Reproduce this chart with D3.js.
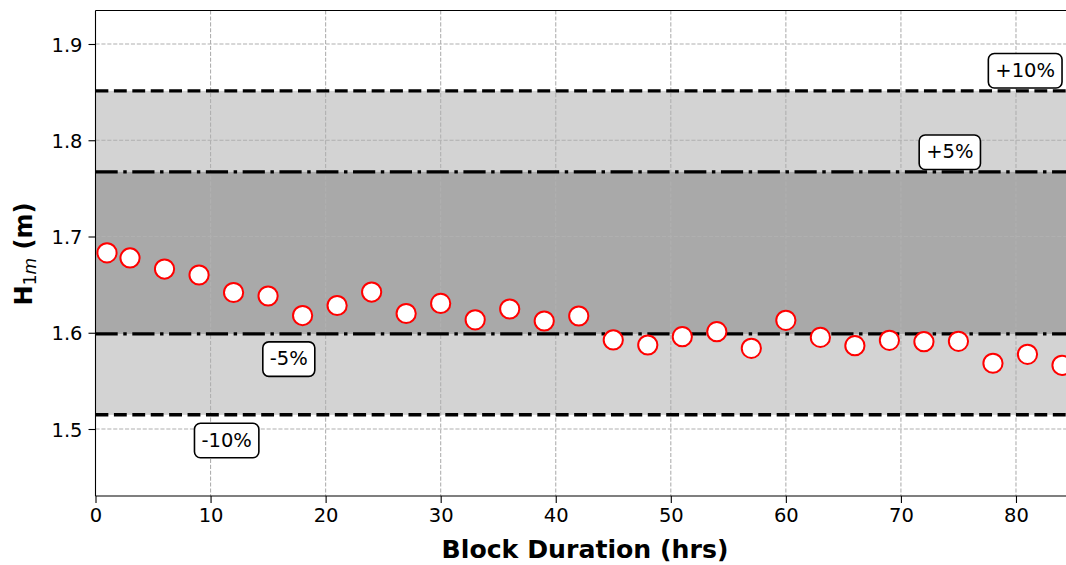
<!DOCTYPE html>
<html>
<head>
<meta charset="utf-8">
<script src="https://cdn.jsdelivr.net/npm/d3@7"></script>
<style>
  html, body { margin: 0; padding: 0; background: #fff; }
  svg { display: block; font-family: "DejaVu Sans", sans-serif; }
</style>
</head>
<body>
<svg id="chart" width="1066" height="565"></svg>
<script>
// ---- data ----
const hours = [1, 3, 6, 9, 12, 15, 18, 21, 24, 27, 30, 33, 36, 39, 42, 45, 48, 51, 54, 57, 60, 63, 66, 69, 72, 75, 78, 81, 84];
const h1m = [1.683, 1.6777, 1.6662, 1.660, 1.6418, 1.6382, 1.6179, 1.6283, 1.6423, 1.6200, 1.6305, 1.6134, 1.6247, 1.6122, 1.6174,
             1.5925, 1.5873, 1.5959, 1.6011, 1.5838, 1.6129, 1.5952, 1.5866, 1.5921, 1.5907, 1.5911, 1.5683, 1.5776, 1.5662];
const reference = 1.683;
const bandPercents = [10, 5];                 // ±10 % (dashed), ±5 % (dash-dot)
const bandLabels = ["+10%", "+5%", "-5%", "-10%"];
const bandLabelX = [80.8, 74.25, 16.8, 11.4];
const bandLabelY = [1.8725, 1.7878, 1.5729, 1.4883];
const xTicks = [0, 10, 20, 30, 40, 50, 60, 70, 80];
const yTicks = [1.5, 1.6, 1.7, 1.8, 1.9];
const xLabel = "Block Duration (hrs)";

// ---- layout ----
const svg = d3.select("#chart");
const L = 95.5, T = 10.5, B = 496;
const x = d3.scaleLinear().domain([0, 86]).range([L, L + 86 * 11.506]);
const y = d3.scaleLinear().domain([1.4304, 1.9348]).range([B, T]);
const R = x.range()[1];

svg.append("defs").append("clipPath").attr("id", "clip")
  .append("rect").attr("x", L).attr("y", T).attr("width", R - L).attr("height", B - T);

const plot = svg.append("g").attr("clip-path", "url(#clip)");

// bands
plot.append("rect")
  .attr("x", L).attr("width", R - L)
  .attr("y", y(reference * 1.10)).attr("height", y(reference * 0.90) - y(reference * 1.10))
  .attr("fill", "#d3d3d3");
plot.append("rect")
  .attr("x", L).attr("width", R - L)
  .attr("y", y(reference * 1.05)).attr("height", y(reference * 0.95) - y(reference * 1.05))
  .attr("fill", "#a9a9a9");

// grid
const grid = plot.append("g").attr("stroke", "#b0b0b0").attr("stroke-width", 1.1)
  .attr("stroke-dasharray", "4.1,1.8").attr("fill", "none");
grid.selectAll("line.gx").data(xTicks.filter(d => d > 0)).join("line")
  .attr("x1", d => x(d)).attr("x2", d => x(d)).attr("y1", T).attr("y2", B);
grid.selectAll("line.gy").data(yTicks).join("line")
  .attr("y1", d => y(d)).attr("y2", d => y(d)).attr("x1", L).attr("x2", R);

// reference lines
const lw = 3.47;
const lineStyles = { 10: "12.85,5.56", 5: "22.2,5.56,3.47,5.56" };
bandPercents.forEach(p => {
  [1 + p / 100, 1 - p / 100].forEach(f => {
    plot.append("line")
      .attr("x1", L).attr("x2", R)
      .attr("y1", y(reference * f)).attr("y2", y(reference * f))
      .attr("stroke", "#000").attr("stroke-width", lw)
      .attr("stroke-dasharray", lineStyles[p]);
  });
});

// points
plot.selectAll("circle.pt").data(hours.map((h, i) => [h, h1m[i]])).join("circle")
  .attr("class", "pt")
  .attr("cx", d => x(d[0])).attr("cy", d => y(d[1]))
  .attr("r", 9.6)
  .attr("fill", "#fff").attr("stroke", "#ff0000").attr("stroke-width", 2);

// band labels
bandLabels.forEach((lab, i) => {
  const g = svg.append("g");
  const t = g.append("text")
    .attr("x", x(bandLabelX[i])).attr("y", y(bandLabelY[i]))
    .attr("text-anchor", "middle").attr("dominant-baseline", "central")
    .attr("font-size", 19.5).attr("fill", "#000").text(lab);
  const bb = t.node().getBBox();
  const padX = 7, padY = 6;
  g.insert("rect", "text")
    .attr("x", bb.x - padX).attr("y", bb.y - padY + 0.5)
    .attr("width", bb.width + 2 * padX).attr("height", bb.height + 2 * padY - 0.5)
    .attr("rx", 6).attr("ry", 6)
    .attr("fill", "#fff").attr("stroke", "#000").attr("stroke-width", 1.6);
});

// spines
svg.append("line").attr("x1", L).attr("x2", R).attr("y1", T).attr("y2", T).attr("stroke", "#000").attr("stroke-width", 1.1);
svg.append("line").attr("x1", L).attr("x2", R).attr("y1", B).attr("y2", B).attr("stroke", "#000").attr("stroke-width", 1.1);
svg.append("line").attr("x1", L).attr("x2", L).attr("y1", T).attr("y2", B).attr("stroke", "#000").attr("stroke-width", 1.1);

// axes
const xAxis = d3.axisBottom(x).tickValues(xTicks).tickFormat(d3.format("d")).tickSize(7).tickPadding(5);
const yAxis = d3.axisLeft(y).tickValues(yTicks).tickFormat(d3.format(".1f")).tickSize(7).tickPadding(6);
const gx = svg.append("g").attr("transform", `translate(0,${B})`).call(xAxis);
const gy = svg.append("g").attr("transform", `translate(${L},0)`).call(yAxis);
[gx, gy].forEach(g => {
  g.select(".domain").remove();
  g.selectAll(".tick line").attr("stroke", "#000").attr("stroke-width", 1.1);
  g.selectAll(".tick text").attr("font-size", 19.5).attr("font-family", "DejaVu Sans").attr("fill", "#000");
});
gx.selectAll(".tick text").attr("dy", "0.72em");
gy.selectAll(".tick text").attr("dy", "0.36em");

// axis labels
svg.append("text")
  .attr("x", 585).attr("y", 558)
  .attr("text-anchor", "middle").attr("font-size", 25.2).attr("font-weight", "bold")
  .attr("fill", "#000").text(xLabel);

const yl = svg.append("text")
  .attr("transform", `translate(32,${254}) rotate(-90)`)
  .attr("text-anchor", "middle").attr("font-size", 24).attr("fill", "#000");
yl.append("tspan").attr("font-weight", "bold").text("H");
yl.append("tspan").attr("font-size", 17).attr("dy", 4).text("1");
yl.append("tspan").attr("font-size", 17).attr("font-style", "italic").text("m");
yl.append("tspan").attr("font-weight", "bold").attr("dy", -4).text(" (m)");
</script>
</body>
</html>
